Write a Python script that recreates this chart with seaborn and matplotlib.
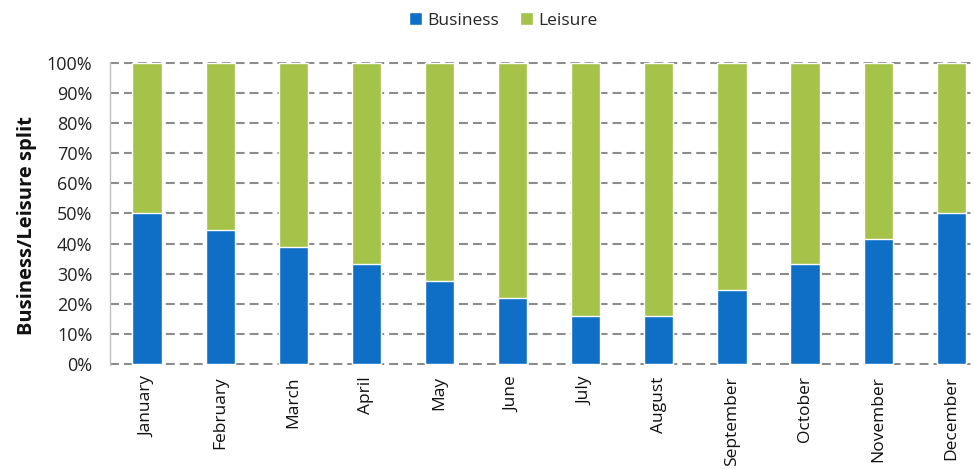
"""Monthly business / leisure split as a 100% stacked bar chart."""
import matplotlib
matplotlib.use("Agg")
import matplotlib.pyplot as plt
import pandas as pd
import seaborn as sns
from matplotlib.patches import Patch
from matplotlib.ticker import PercentFormatter

months = ["January", "February", "March", "April", "May", "June", "July",
          "August", "September", "October", "November", "December"]
business = [50.0, 44.4, 38.8, 33.2, 27.6, 22.0, 16.0, 16.0, 24.5, 33.1, 41.4, 50.0]
leisure = [50.0, 55.6, 61.2, 66.8, 72.4, 78.0, 84.0, 84.0, 75.5, 66.9, 58.6, 50.0]

BLUE = "#0F6FC6"
GREEN = "#A5C249"
GRID = "#8c8c8c"

sns.set_theme(style="white")
plt.rcParams["font.family"] = ["Open Sans", "DejaVu Sans"]

df = pd.DataFrame({"Month": months, "Business": business, "Leisure": leisure})
df["Total"] = df["Business"] + df["Leisure"]

fig = plt.figure(figsize=(9.74, 4.69), dpi=100)
ax = fig.add_axes([0.1134, 0.2214, 1 - 0.1134, 0.6468])

# leisure stacked on top: draw the full column first, business over it
sns.barplot(data=df, x="Month", y="Total", color=GREEN, width=0.40,
            saturation=1, ax=ax, zorder=2)
sns.barplot(data=df, x="Month", y="Business", color=BLUE, width=0.40,
            saturation=1, ax=ax, zorder=3)

ax.set_ylim(-0.4, 100.4)
ax.set_yticks(range(0, 101, 10))
ax.yaxis.set_major_formatter(PercentFormatter(100, decimals=0))
ax.set_xlim(-0.5, 11.31)

ax.grid(axis="y", color=GRID, linewidth=1.5, linestyle=(0, (4.3, 2.4)), zorder=0)
ax.set_axisbelow(True)
for side in ["top", "right", "bottom"]:
    ax.spines[side].set_visible(False)
ax.spines["left"].set_color("#bfbfbf")
ax.spines["left"].set_linewidth(1.0)

ax.tick_params(axis="y", length=0, pad=13, labelsize=13, labelcolor="#222222")
ax.tick_params(axis="x", length=0, pad=8, labelsize=12.5, labelcolor="#111111")
plt.setp(ax.get_xticklabels(), rotation=90, va="top", ha="center")

ax.set_xlabel("")
ax.set_ylabel("Business/Leisure split", fontsize=14.5, fontweight="bold",
              color="#111111")
ax.yaxis.label.set_va("center")
ax.yaxis.set_label_coords(-0.0967, 0.46)

handles = [Patch(facecolor=BLUE, label="Business"),
           Patch(facecolor=GREEN, label="Leisure")]
fig.legend(handles=handles, loc="center", bbox_to_anchor=(0.517, 0.956), ncol=2,
           frameon=False, fontsize=12.5, handlelength=0.75, handleheight=0.75,
           handletextpad=0.3, columnspacing=1.2)

fig.savefig("out.png", dpi=100, facecolor="white")
